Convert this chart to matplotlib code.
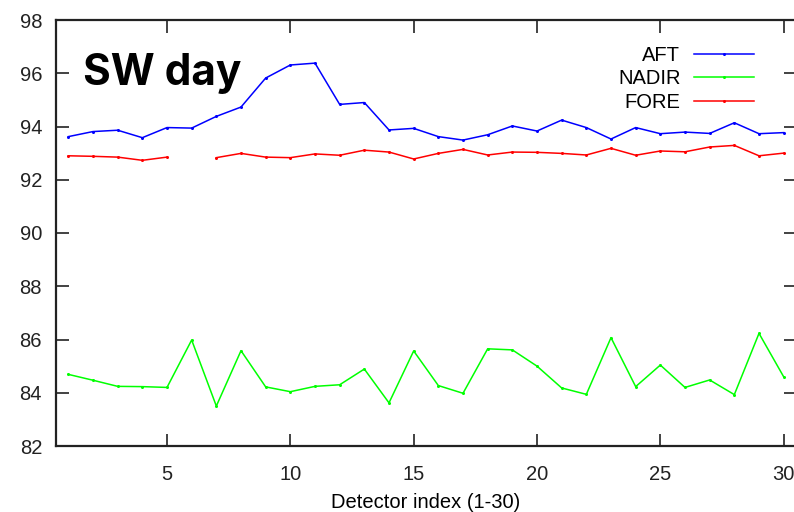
import matplotlib
matplotlib.use("Agg")
import matplotlib.pyplot as plt
import numpy as np

detector = list(range(1, 31))

aft = [93.62, 93.81, 93.86, 93.58, 93.96, 93.94, 94.38, 94.73, 95.82, 96.31,
       96.38, 94.83, 94.90, 93.87, 93.93, 93.62, 93.49, 93.69, 94.02, 93.83,
       94.24, 93.96, 93.53, 93.96, 93.73, 93.79, 93.74, 94.14, 93.73, 93.77]

nadir = [84.69, 84.47, 84.24, 84.23, 84.20, 85.98, 83.50, 85.58, 84.22, 84.04,
         84.24, 84.30, 84.89, 83.62, 85.57, 84.27, 83.98, 85.65, 85.61, 85.00,
         84.18, 83.94, 86.07, 84.23, 85.04, 84.20, 84.48, 83.93, 86.23, 84.60]

# detector 6 has no FORE value
fore = [92.90, 92.88, 92.85, 92.73, 92.85, np.nan, 92.83, 92.99, 92.85, 92.83,
        92.97, 92.92, 93.11, 93.04, 92.78, 92.99, 93.14, 92.93, 93.04, 93.03,
        92.99, 92.93, 93.18, 92.92, 93.08, 93.05, 93.23, 93.29, 92.90, 93.00]

yticks = [82, 84, 86, 88, 90, 92, 94, 96, 98]
xticks = [5, 10, 15, 20, 25, 30]

plt.rcParams['font.family'] = ['Liberation Sans', 'DejaVu Sans']

W, H = 794, 512
fig = plt.figure(figsize=(W / 100, H / 100), dpi=100)
ax = fig.add_axes([56 / W, (H - 446) / H, (796 - 56) / W, (446 - 20) / H])

style = dict(lw=1.1, marker='o', ms=2.2, mew=0)
ax.plot(detector, aft, color='#0000ff', label='AFT', **style)
ax.plot(detector, nadir, color='#00ff00', label='NADIR', **style)
ax.plot(detector, fore, color='#ff0000', label='FORE', **style)

ax.set_xlim(0.5, 30.5)
ax.set_ylim(82, 98)
ax.set_xticks(xticks)
ax.set_yticks(yticks)
ax.tick_params(direction='in', length=9, width=1.2, colors='#222222',
               labelsize=14.5, top=True, right=True)
ax.tick_params(axis='x', pad=14)
ax.tick_params(axis='y', pad=10)
for s in ax.spines.values():
    s.set_linewidth(1.6)
    s.set_color('#222222')

ax.set_xlabel('Detector index (1-30)', fontsize=14.5, labelpad=6)

ax.text(83 / W, (H - 74) / H, 'SW day', transform=fig.transFigure,
        fontsize=30.5, fontweight='bold', family=['Inter', 'DejaVu Sans'],
        va='center', ha='left', color='black')

leg = ax.legend(loc='upper right', bbox_to_anchor=(764 / W, (H - 36) / H),
                bbox_transform=fig.transFigure, frameon=False, fontsize=14.5,
                markerfirst=False, handlelength=3.0, handletextpad=0.65,
                labelspacing=0.22, borderpad=0)
leg._legend_box.align = 'right'

fig.savefig('out.png', dpi=100)
